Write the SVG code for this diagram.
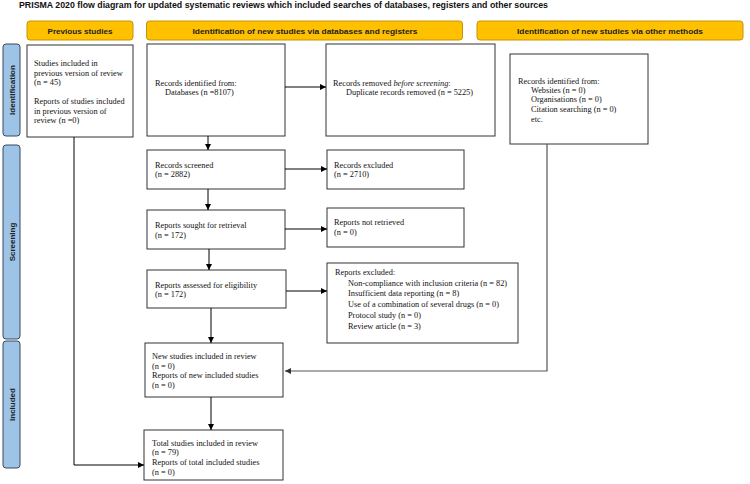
<svg xmlns="http://www.w3.org/2000/svg" width="750" height="484" viewBox="0 0 750 484">
<defs>
<marker id="arr" viewBox="0 0 10 10" refX="10" refY="5" markerWidth="6" markerHeight="6" orient="auto" markerUnits="userSpaceOnUse">
<path d="M0,0 L10,5 L0,10 z" fill="#000"/>
</marker>
<marker id="arrg" viewBox="0 0 10 10" refX="10" refY="5" markerWidth="6" markerHeight="6" orient="auto" markerUnits="userSpaceOnUse">
<path d="M0,0 L10,5 L0,10 z" fill="#333"/>
</marker>
</defs>
<style>
.title{font-family:"Liberation Sans",Arial,sans-serif;font-size:8.5px;font-weight:bold;fill:#111}
.hdr{fill:#FFC000;stroke:#C49500;stroke-width:1}
.hdrt{font-family:"Liberation Sans",Arial,sans-serif;font-size:8px;font-weight:bold;fill:#222;text-anchor:middle}
.side{fill:#9DC3E6;stroke:#3B4A5A;stroke-width:1}
.sidet{font-family:"Liberation Sans",Arial,sans-serif;font-size:8px;font-weight:bold;fill:#222;text-anchor:middle}
.box{fill:#fff;stroke:#333;stroke-width:1}
.t{font-family:"Liberation Serif","Times New Roman",serif;font-size:8.3px;fill:#111}
.ln{fill:none;stroke:#000;stroke-width:1}
.lg{fill:none;stroke:#555;stroke-width:1.2}
</style>
<rect width="750" height="484" fill="#fff"/>
<text class="title" x="19" y="8" textLength="529" lengthAdjust="spacingAndGlyphs">PRISMA 2020 flow diagram for updated systematic reviews which included searches of databases, registers and other sources</text>

<g id="hdr-previous">
<rect class="hdr" x="27" y="21" width="106" height="19" rx="3"/>
<text class="hdrt" x="80" y="34" textLength="65" lengthAdjust="spacingAndGlyphs">Previous studies</text>
</g>
<g id="hdr-databases">
<rect class="hdr" x="146.5" y="21" width="316" height="19" rx="3"/>
<text class="hdrt" x="305" y="34" textLength="225" lengthAdjust="spacingAndGlyphs">Identification of new studies via databases and registers</text>
</g>
<g id="hdr-other">
<rect class="hdr" x="477" y="21" width="266" height="19" rx="3"/>
<text class="hdrt" x="610" y="34" textLength="186" lengthAdjust="spacingAndGlyphs">Identification of new studies via other methods</text>
</g>

<g id="side-identification">
<rect class="side" x="3" y="44" width="17" height="92" rx="3"/>
<text class="sidet" transform="translate(14.5,90) rotate(-90)">Identification</text>
</g>
<g id="side-screening">
<rect class="side" x="3" y="145" width="17" height="194" rx="3"/>
<text class="sidet" transform="translate(14.5,242) rotate(-90)">Screening</text>
</g>
<g id="side-included">
<rect class="side" x="3" y="341" width="17" height="127" rx="3"/>
<text class="sidet" transform="translate(14.5,404.5) rotate(-90)">Included</text>
</g>

<g id="previous-studies">
<rect class="box" x="27" y="45" width="106" height="92"/>
<text class="t" x="34" y="66">Studies included in</text>
<text class="t" x="34" y="76">previous version of review</text>
<text class="t" x="34" y="85">(n = 45)</text>
<text class="t" x="34" y="104">Reports of studies included</text>
<text class="t" x="34" y="114">in previous version of</text>
<text class="t" x="34" y="123">review (n =0)</text>
</g>

<g id="records-identified">
<rect class="box" x="147" y="44" width="138" height="92"/>
<text class="t" x="155" y="86">Records identified from:</text>
<text class="t" x="165" y="95">Databases (n =8107)</text>
</g>

<g id="records-removed">
<rect class="box" x="326" y="44" width="169" height="92"/>
<text class="t" x="333" y="86">Records removed <tspan font-style="italic">before screening</tspan>:</text>
<text class="t" x="346" y="95">Duplicate records removed (n = 5225)</text>
</g>

<g id="other-methods">
<rect class="box" x="510" y="54" width="138" height="90"/>
<text class="t" x="518" y="84">Records identified from:</text>
<text class="t" x="531" y="93">Websites (n = 0)</text>
<text class="t" x="531" y="102">Organisations (n = 0)</text>
<text class="t" x="531" y="112">Citation searching (n = 0)</text>
<text class="t" x="531" y="122">etc.</text>
</g>

<g id="records-screened">
<rect class="box" x="147" y="150" width="138" height="39"/>
<text class="t" x="155" y="168">Records screened</text>
<text class="t" x="155" y="177">(n = 2882)</text>
</g>

<g id="records-excluded">
<rect class="box" x="327" y="150" width="137" height="39"/>
<text class="t" x="334" y="168">Records excluded</text>
<text class="t" x="334" y="177">(n = 2710)</text>
</g>

<g id="reports-sought">
<rect class="box" x="147" y="210" width="138" height="39"/>
<text class="t" x="155" y="228">Reports sought for retrieval</text>
<text class="t" x="155" y="238">(n = 172)</text>
</g>

<g id="reports-not-retrieved">
<rect class="box" x="327" y="208" width="137" height="39"/>
<text class="t" x="334" y="225">Reports not retrieved</text>
<text class="t" x="334" y="235">(n = 0)</text>
</g>

<g id="reports-assessed">
<rect class="box" x="147" y="270" width="139" height="38"/>
<text class="t" x="155" y="288">Reports assessed for eligibility</text>
<text class="t" x="155" y="297">(n = 172)</text>
</g>

<g id="reports-excluded">
<rect class="box" x="327" y="263" width="191" height="80"/>
<text class="t" x="335" y="275">Reports excluded:</text>
<text class="t" x="348" y="286">Non-compliance with inclusion criteria (n = 82)</text>
<text class="t" x="348" y="296">Insufficient data reporting (n = 8)</text>
<text class="t" x="348" y="307">Use of a combination of several drugs (n = 0)</text>
<text class="t" x="348" y="318">Protocol study (n = 0)</text>
<text class="t" x="348" y="329">Review article (n = 3)</text>
</g>

<g id="new-studies">
<rect class="box" x="145" y="343" width="138" height="54"/>
<text class="t" x="152" y="359">New studies included in review</text>
<text class="t" x="152" y="369">(n = 0)</text>
<text class="t" x="152" y="378">Reports of new included studies</text>
<text class="t" x="152" y="388">(n = 0)</text>
</g>

<g id="total-studies">
<rect class="box" x="144" y="430" width="139" height="50"/>
<text class="t" x="152" y="446">Total studies included in review</text>
<text class="t" x="152" y="455">(n = 79)</text>
<text class="t" x="152" y="465">Reports of total included studies</text>
<text class="t" x="152" y="475">(n = 0)</text>
</g>

<g id="connectors">
<line class="ln" x1="285" y1="87" x2="326" y2="87" marker-end="url(#arr)"/>
<line class="ln" x1="208" y1="136" x2="208" y2="150" marker-end="url(#arr)"/>
<line class="ln" x1="285" y1="169" x2="327" y2="169" marker-end="url(#arr)"/>
<line class="ln" x1="208" y1="189" x2="208" y2="210" marker-end="url(#arr)"/>
<line class="ln" x1="285" y1="229" x2="327" y2="229" marker-end="url(#arr)"/>
<line class="ln" x1="209" y1="249" x2="209" y2="270" marker-end="url(#arr)"/>
<line class="ln" x1="286" y1="291" x2="327" y2="291" marker-end="url(#arr)"/>
<line class="ln" x1="211" y1="308" x2="211" y2="343" marker-end="url(#arr)"/>
<polyline class="lg" points="547,144 547,371 285,371" marker-end="url(#arrg)"/>
<line class="ln" x1="211" y1="397" x2="211" y2="430" marker-end="url(#arr)"/>
<polyline class="ln" points="74,137 74,465 144,465" marker-end="url(#arr)"/>
</g>
</svg>
